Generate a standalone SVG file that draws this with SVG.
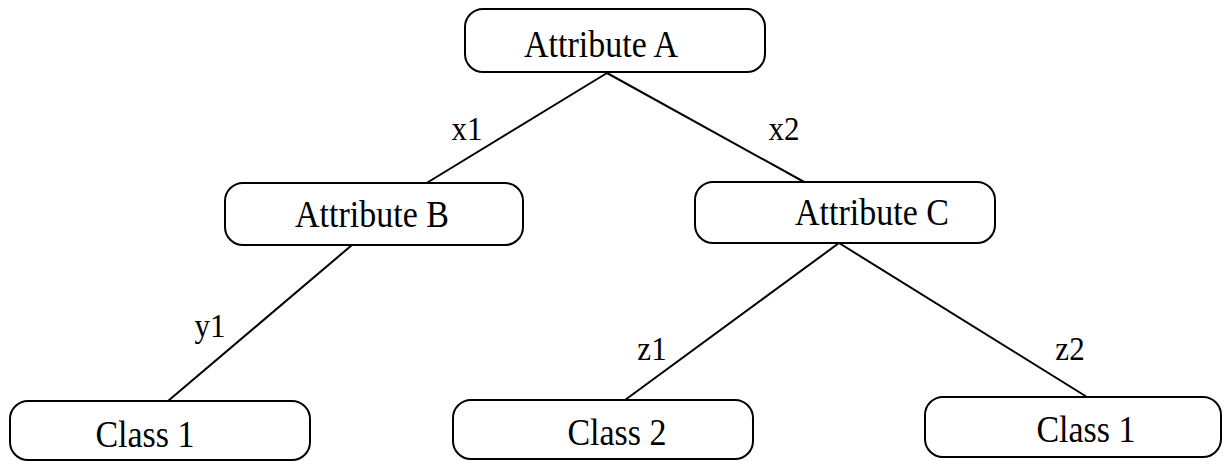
<svg xmlns="http://www.w3.org/2000/svg" width="1224" height="462" viewBox="0 0 1224 462">
  <style>
    .box { fill: #fff; stroke: #000; stroke-width: 2; }
    .lbl { font-family: "Liberation Serif", "Times New Roman", serif; font-size: 34px; fill: #000; text-anchor: middle; }
    .edge { font-family: "Liberation Serif", "Times New Roman", serif; font-size: 31px; fill: #000; text-anchor: middle; }
    .link { stroke: #000; stroke-width: 2; fill: none; }
  </style>
  <rect width="1224" height="462" fill="#fff"/>

  <!-- branches; labels are set on their baseline and stretched slightly upward -->
  <g id="connectors">
    <line class="link" x1="607" y1="73" x2="425" y2="184"/>
    <line class="link" x1="607" y1="73" x2="806" y2="183"/>
    <line class="link" x1="352" y1="245" x2="168" y2="401"/>
    <line class="link" x1="839" y1="243" x2="625" y2="400"/>
    <line class="link" x1="839" y1="243" x2="1087" y2="397"/>
    <text class="edge" transform="translate(467 140) scale(1 1.12)">x1</text>
    <text class="edge" transform="translate(784 140) scale(1 1.12)">x2</text>
    <text class="edge" transform="translate(210 337) scale(1 1.12)">y1</text>
    <text class="edge" transform="translate(652 360) scale(1 1.12)">z1</text>
    <text class="edge" transform="translate(1070 360) scale(1 1.12)">z2</text>
  </g>

  <g id="attr-a">
    <rect class="box" x="465" y="9" width="300" height="63" rx="18"/>
    <text class="lbl" transform="translate(601 57) scale(1 1.12)">Attribute A</text>
  </g>
  <g id="attr-b">
    <rect class="box" x="225" y="183" width="298" height="62" rx="18"/>
    <text class="lbl" transform="translate(372 227) scale(1 1.12)">Attribute B</text>
  </g>
  <g id="attr-c">
    <rect class="box" x="695" y="182" width="300" height="61" rx="18"/>
    <text class="lbl" transform="translate(872 225) scale(1 1.12)">Attribute C</text>
  </g>
  <g id="class1-left">
    <rect class="box" x="10" y="401" width="300" height="59" rx="18"/>
    <text class="lbl" transform="translate(145 447) scale(1 1.12)">Class 1</text>
  </g>
  <g id="class2">
    <rect class="box" x="453" y="400" width="300" height="59" rx="18"/>
    <text class="lbl" transform="translate(617 445) scale(1 1.12)">Class 2</text>
  </g>
  <g id="class1-right">
    <rect class="box" x="925" y="397" width="296" height="60" rx="18"/>
    <text class="lbl" transform="translate(1086 442) scale(1 1.12)">Class 1</text>
  </g>
</svg>
